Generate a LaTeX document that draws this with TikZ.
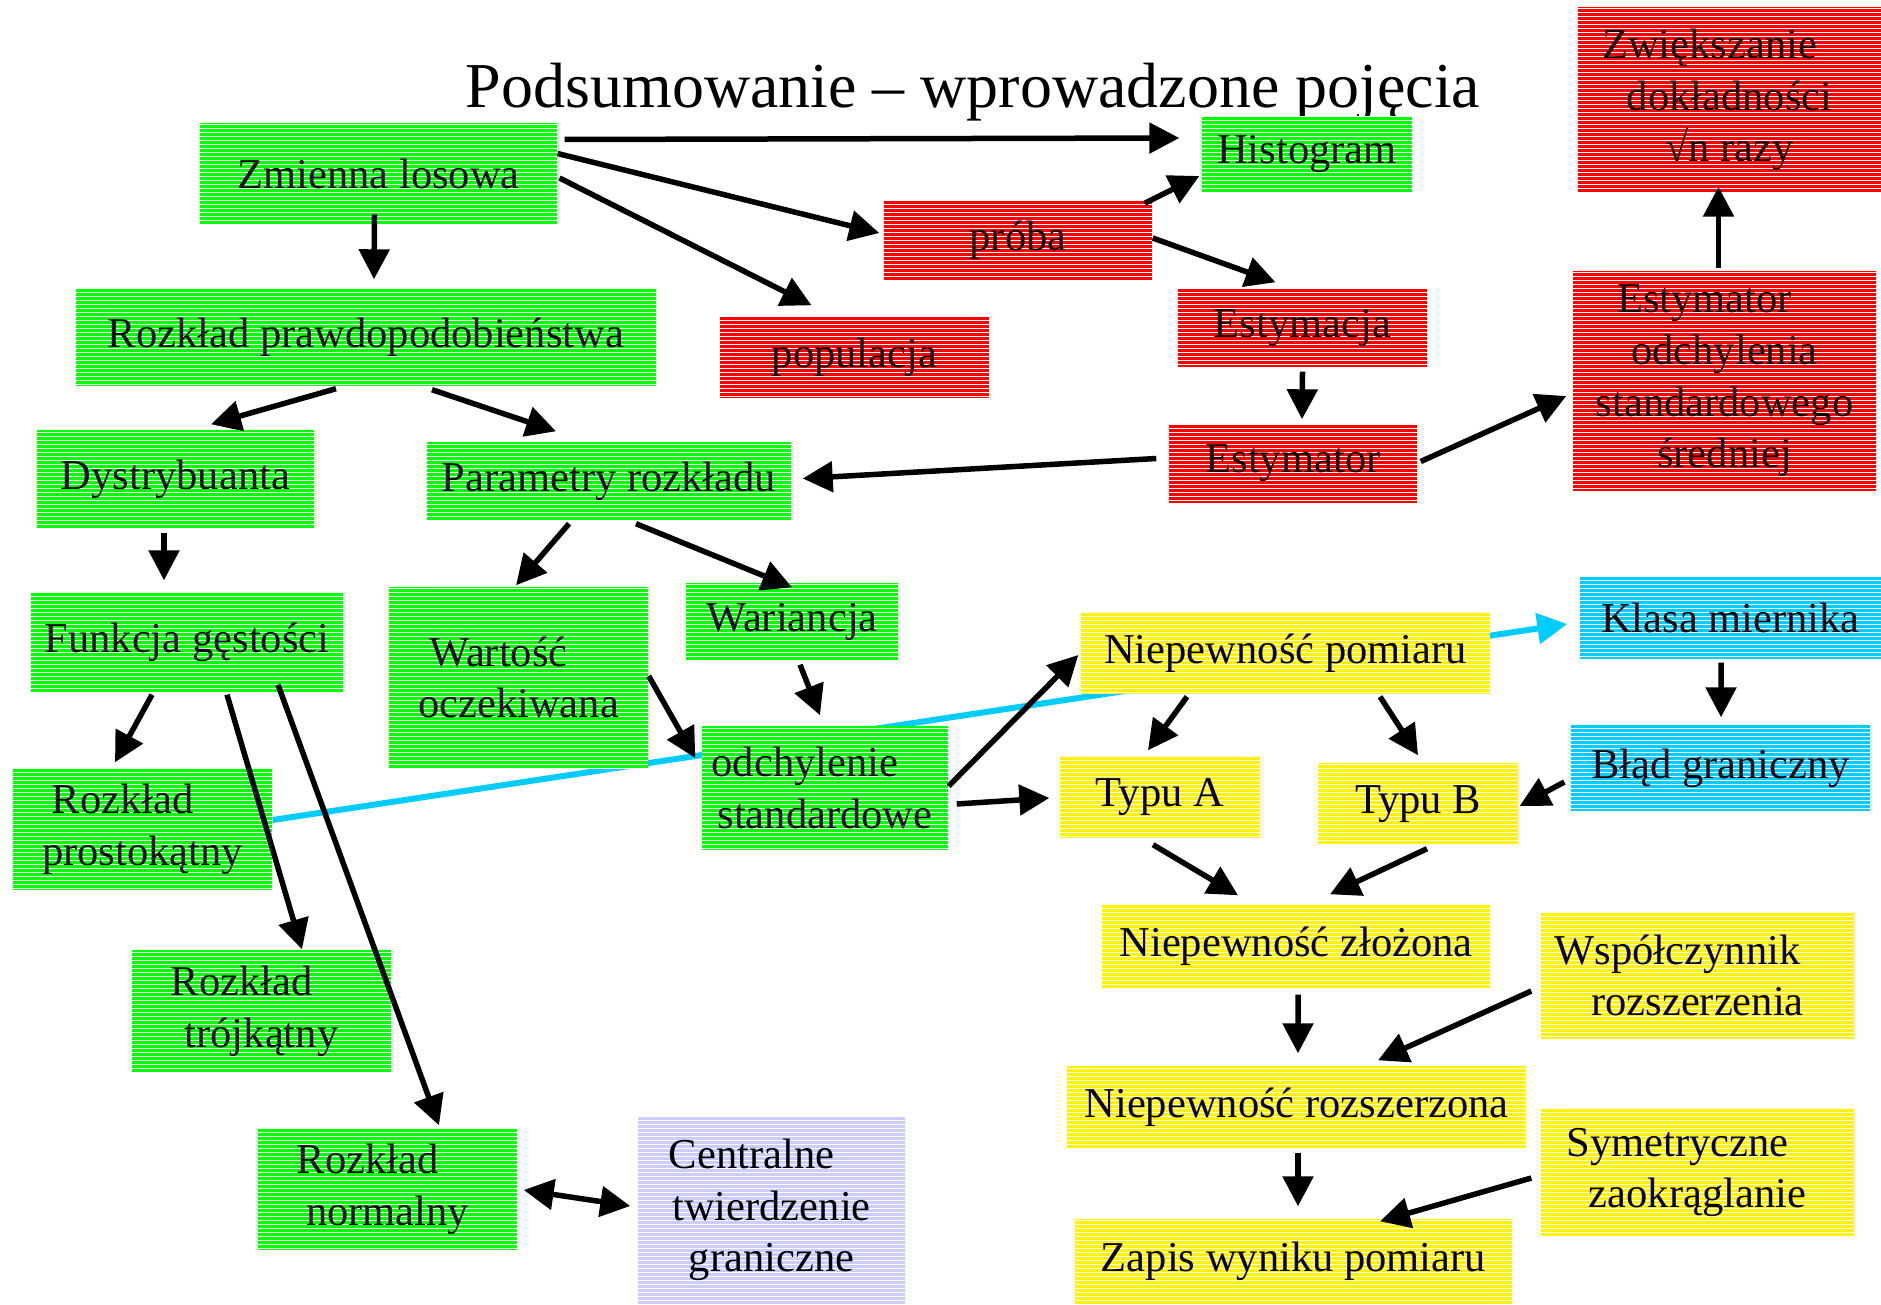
\documentclass[tikz,border=0pt]{standalone}
\usepackage{fontspec}
\setmainfont{Liberation Serif}
\usepackage{xcolor}
\usepackage{tikz}
\usetikzlibrary{arrows.meta,patterns.meta,backgrounds}

\definecolor{skyblue}{HTML}{00CCFF}
\definecolor{lavender}{HTML}{CCCCFF}

\begin{document}
\begin{tikzpicture}[x=0.1mm, y=-0.1mm, >={Triangle[length=3mm,width=3mm]},
  box/.style={rectangle, inner sep=0pt, align=center, font=\fontsize{12.1}{14.7}\selectfont,
    pattern={Lines[angle=0,distance=0.4mm,line width=0.1mm]}, pattern color=white},
  gbox/.style={box, preaction={fill=green}},
  rbox/.style={box, preaction={fill=red}},
  ybox/.style={box, preaction={fill=yellow}},
  bbox/.style={box, preaction={fill=skyblue}},
  lbox/.style={box, preaction={fill=lavender}},
  arr/.style={->, line width=0.55mm},
  cyanline/.style={->, line width=0.6mm, skyblue}]
\useasboundingbox (0,0) rectangle (1881,1304);

\node[anchor=base, font=\fontsize{18.2}{22}\selectfont] (title) at (973,108) {Podsumowanie – wprowadzone pojęcia};

\node[gbox, minimum width=35.7mm, minimum height=10.2mm] (zl) at (378.5,174) {Zmienna losowa};
\node[gbox, minimum width=21mm, minimum height=7.6mm] (hist) at (1307,154) {Histogram};
\node[rbox, minimum width=26.8mm, minimum height=8mm] (proba) at (1018,240) {próba};
\node[rbox, minimum width=26.9mm, minimum height=8.1mm] (pop) at (854.5,357.5) {populacja};
\node[rbox, minimum width=24.9mm, minimum height=7.8mm] (estc) at (1302.5,328) {Estymacja};
\node[rbox, minimum width=24.8mm, minimum height=7.9mm] (est) at (1293,463.5) {Estymator};
\node[rbox, minimum width=30.3mm, minimum height=18.6mm] (zwiek) at (1729.5,100) {Zwiększanie\hspace*{4mm}\\dokładności\\√n razy};
\node[rbox, minimum width=30.3mm, minimum height=22mm] (estodch) at (1724.5,381) {Estymator\hspace*{4mm}\\odchylenia\\standardowego\\średniej};

\node[gbox, minimum width=58mm, minimum height=9.8mm] (rozk) at (366,337) {Rozkład prawdopodobieństwa};
\node[gbox, minimum width=27.7mm, minimum height=9.9mm] (dystr) at (175.5,479.5) {Dystrybuanta};
\node[gbox, minimum width=36.4mm, minimum height=7.9mm] (param) at (609,481.5) {Parametry rozkładu};
\node[gbox, minimum width=31.2mm, minimum height=10mm] (funk) at (187,642) {Funkcja gęstości};
\node[gbox, minimum width=25.9mm, minimum height=18.1mm] (wart) at (518.5,677.5) {Wartość\hspace*{4mm}\\oczekiwana};
\node[gbox, minimum width=21.2mm, minimum height=7.7mm] (war) at (792,621.5) {Wariancja};
\node[gbox, minimum width=24.6mm, minimum height=12.4mm] (odch) at (825,788) {odchylenie\hspace*{4mm}\\standardowe};
\node[gbox, minimum width=25.9mm, minimum height=12.2mm] (prost) at (142.5,829) {Rozkład\hspace*{4mm}\\prostokątny};
\node[gbox, minimum width=25.9mm, minimum height=12.2mm] (troj) at (261.5,1011) {Rozkład\hspace*{4mm}\\trójkątny};
\node[gbox, minimum width=25.9mm, minimum height=12.2mm] (norm) at (387.5,1189) {Rozkład\hspace*{4mm}\\normalny};
\node[lbox, minimum width=26.7mm, minimum height=18.8mm] (cent) at (771.5,1210) {Centralne\hspace*{4mm}\\twierdzenie\\graniczne};

\node[ybox, minimum width=40.9mm, minimum height=8.2mm] (npom) at (1285.5,653) {Niepewność pomiaru};
\node[bbox, minimum width=30.1mm, minimum height=8.2mm] (klasa) at (1730.5,618) {Klasa miernika};
\node[ybox, minimum width=20mm, minimum height=8.2mm] (typa) at (1160,797) {Typu A};
\node[ybox, minimum width=20mm, minimum height=8.2mm] (typb) at (1418,804) {Typu B};
\node[bbox, minimum width=29.9mm, minimum height=8.6mm] (blad) at (1720.5,768) {Błąd graniczny};
\node[ybox, minimum width=38.8mm, minimum height=8.4mm] (nzl) at (1296,946) {Niepewność złożona};
\node[ybox, minimum width=31.3mm, minimum height=12.7mm] (wsp) at (1697.5,975.5) {Współczynnik\hspace*{4mm}\\rozszerzenia};
\node[ybox, minimum width=45.9mm, minimum height=8.2mm] (nroz) at (1296.5,1107) {Niepewność rozszerzona};
\node[ybox, minimum width=31.3mm, minimum height=12.7mm] (sym) at (1697.5,1172.5) {Symetryczne\hspace*{4mm}\\zaokrąglanie};
\node[ybox, minimum width=43.7mm, minimum height=8.5mm] (zapis) at (1293.5,1261.5) {Zapis wyniku pomiaru};

% light blue link runs behind the boxes
\begin{pgfonlayer}{background}
\draw[cyanline] ([shift={(0,-9)}]prost.east) -- ([shift={(-12,6)}]klasa.west);
\end{pgfonlayer}

\draw[arr] ([shift={(7,17)}]zl.north east) -- ([shift={(-22,-16)}]hist.west);
\draw[arr] ([shift={(0,31)}]zl.north east) -- ([shift={(-4,-7)}]proba.west);
\draw[arr] ([shift={(2,4)}]zl.east) -- ([shift={(-43,-11)}]pop.north);
\draw[arr] ([shift={(-4,-11)}]zl.south) -- ([shift={(8,-8)}]rozk.north);
\draw[arr] ([shift={(-8,4)}]proba.north east) -- ([shift={(-2,22)}]hist.west);
\draw[arr] ([shift={(0,-2)}]proba.east) -- ([shift={(-27,-6)}]estc.north);
\draw[arr] ([shift={(0,4)}]estc.south) -- ([shift={(9,-4)}]est.north);
\draw[arr] ([shift={(-12,-5)}]est.west) -- ([shift={(11,-3)}]param.east);
\draw[arr] ([shift={(3,-2)}]est.east) -- ([shift={(-6,15)}]estodch.west);
\draw[arr] ([shift={(-6,-2)}]estodch.north) -- ([shift={(-11,-7)}]zwiek.south);

\draw[arr] ([shift={(-30,2)}]rozk.south) -- ([shift={(35.5,-5)}]dystr.north);
\draw[arr] ([shift={(66,3)}]rozk.south) -- ([shift={(-53,-10)}]param.north);
\draw[arr] ([shift={(-11.5,3)}]dystr.south) -- ([shift={(-23,-11)}]funk.north);
\draw[arr] ([shift={(-40,2)}]param.south) -- ([shift={(-2.5,-1)}]wart.north);
\draw[arr] ([shift={(27,2)}]param.south) -- ([shift={(0,5)}]war.north);
\draw[arr] ([shift={(-35,2)}]funk.south) -- ([shift={(-27.5,-5)}]prost.north);
\draw[arr] ([shift={(40,2)}]funk.south) -- ([shift={(40.5,0)}]troj.north);
\draw[arr] ([shift={(91,-8)}]funk.south) -- ([shift={(51.5,-2)}]norm.north);
\draw[arr] ([shift={(8,4)}]war.south) -- ([shift={(-5,-10)}]odch.north);
\draw[arr] ([shift={(0,-1.5)}]wart.east) -- ([shift={(-6,-30)}]odch.west);
\draw[arr, <->] ([shift={(6,1)}]norm.east) -- ([shift={(-7,-4)}]cent.west);

\draw[arr] ([shift={(0,-2)}]odch.east) -- ([shift={(-2,2)}]npom.west);
\draw[arr] ([shift={(8,16)}]odch.east) -- ([shift={(-10,1)}]typa.west);
\draw[arr] ([shift={(-98.5,2)}]npom.south) -- ([shift={(-12,-5)}]typa.north);
\draw[arr] ([shift={(94.5,2)}]npom.south) -- ([shift={(0,-7)}]typb.north);
\draw[arr] ([shift={(-9.5,3)}]klasa.south) -- ([shift={(0.5,-7)}]blad.north);
\draw[arr] ([shift={(-6,14)}]blad.west) -- ([shift={(1,2)}]typb.east);
\draw[arr] ([shift={(-7,6)}]typa.south) -- ([shift={(-58,-8)}]nzl.north);
\draw[arr] ([shift={(9,3)}]typb.south) -- ([shift={(34,-9)}]nzl.north);
\draw[arr] ([shift={(2,6)}]nzl.south) -- ([shift={(1.5,-12)}]nroz.north);
\draw[arr] ([shift={(-9,15.5)}]wsp.west) -- ([shift={(81.5,-5)}]nroz.north);
\draw[arr] ([shift={(1.5,4)}]nroz.south) -- ([shift={(4.5,-12)}]zapis.north);
\draw[arr] ([shift={(-9,5.5)}]sym.west) -- ([shift={(86.5,3)}]zapis.north);

\end{tikzpicture}
\end{document}
